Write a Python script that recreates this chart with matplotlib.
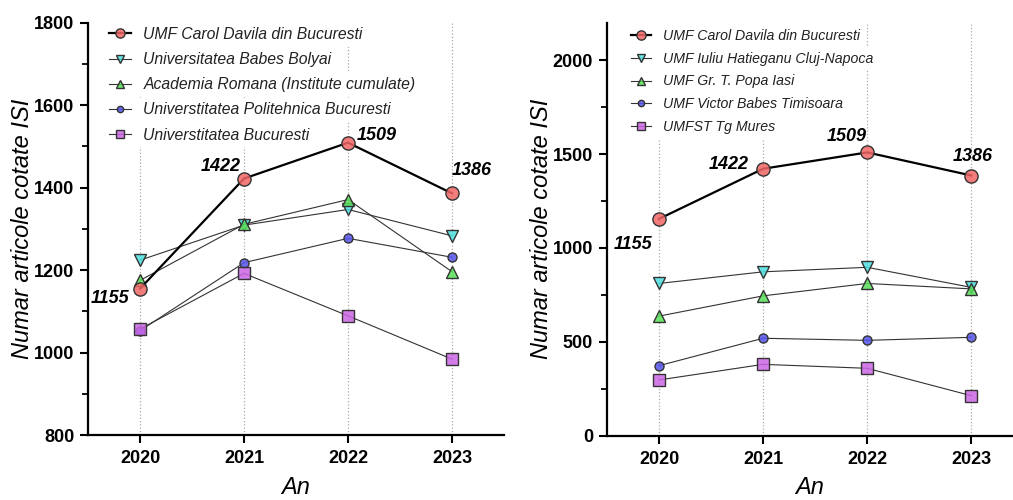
import matplotlib
matplotlib.use("Agg")
import matplotlib.pyplot as plt
from matplotlib.ticker import MultipleLocator

plt.rcParams['font.family'] = ['Liberation Sans', 'DejaVu Sans']

years = [2020, 2021, 2022, 2023]

# left panel
left_names = ['UMF Carol Davila din Bucuresti', 'Universitatea Babes Bolyai',
              'Academia Romana (Institute cumulate)', 'Universtitatea Politehnica Bucuresti',
              'Universtitatea Bucuresti']
left_vals = [
    [1155, 1422, 1509, 1386],
    [1224, 1309, 1347, 1283],
    [1175, 1311, 1371, 1196],
    [1053, 1218, 1277, 1231],
    [1057, 1192, 1089, 984],
]

# right panel
right_names = ['UMF Carol Davila din Bucuresti', 'UMF Iuliu Hatieganu Cluj-Napoca',
               'UMF Gr. T. Popa Iasi', 'UMF Victor Babes Timisoara', 'UMFST Tg Mures']
right_vals = [
    [1155, 1422, 1509, 1386],
    [811, 873, 897, 790],
    [637, 745, 811, 782],
    [373, 519, 508, 524],
    [297, 380, 359, 213],
]

# styles per series position
markers = ['o', 'v', '^', 'o', 's']
faces = [(0.95, 0.40, 0.40, 0.85), (0.30, 0.88, 0.88, 0.85), (0.35, 0.88, 0.35, 0.85),
         (0.33, 0.33, 0.92, 0.85), (0.80, 0.40, 0.90, 0.85)]
sizes = [9.5, 9, 9, 6.5, 8.5]

# label offsets in pixels (dx, dy, ha) for Carol Davila values
left_offs = [(-11, -10, 'right'), (-3, 12, 'right'), (9, 7, 'left'), (0, 23, 'left')]
right_offs = [(-7, -26, 'right'), (-14, 4, 'right'), (-1, 16, 'right'), (-19, 19, 'left')]

fig = plt.figure(figsize=(10.13, 5), dpi=100)
ax1 = fig.add_axes([0.0869, 0.13, 0.4107, 0.8246])
ax2 = fig.add_axes([0.5992, 0.1286, 0.4008, 0.826])


def draw(ax, names, vals, offs, ylim, major, minor, fs, ls, anchor):
    for i, (name, v) in enumerate(zip(names, vals)):
        ax.plot(years, v, marker=markers[i], ms=sizes[i], mfc=faces[i],
                mec='#333333', mew=1.0,
                color='black' if i == 0 else '#333333',
                lw=1.6 if i == 0 else 0.8,
                zorder=5 if i == 0 else 3, label=name)
    for x, y, (dx, dy, ha) in zip(years, vals[0], offs):
        ax.annotate(str(y), (x, y), xytext=(dx, dy), textcoords='offset pixels',
                    ha=ha, va='center', fontsize=13, fontweight='bold',
                    fontstyle='italic', zorder=6)
    ax.set_xlim(2019.5, 2023.5 if ax is ax1 else 2023.4)
    ax.set_ylim(*ylim)
    ax.set_xticks(years)
    ax.yaxis.set_major_locator(MultipleLocator(major))
    ax.yaxis.set_minor_locator(MultipleLocator(minor))
    ax.grid(axis='x', linestyle=':', color='#aaaaaa', lw=0.9, zorder=0)
    ax.set_axisbelow(True)
    for s in ['top', 'right']:
        ax.spines[s].set_visible(False)
    for s in ['left', 'bottom']:
        ax.spines[s].set_linewidth(1.6)
    ax.tick_params(axis='both', which='major', direction='out', length=6, width=1.5,
                   labelsize=13, pad=4)
    ax.tick_params(axis='y', which='minor', direction='out', length=4, width=1.3)
    ax.tick_params(axis='x', pad=5)
    for t in ax.get_xticklabels() + ax.get_yticklabels():
        t.set_fontweight('bold')
    ax.set_ylabel('Numar articole cotate ISI', fontsize=17, fontstyle='italic', labelpad=0)
    ax.set_xlabel('An', fontsize=17, fontstyle='italic', labelpad=6)
    leg = ax.legend(loc='upper left', frameon=False, fontsize=fs, markerscale=0.7,
                    handlelength=1.4, handletextpad=0.8, labelspacing=ls,
                    borderpad=0, borderaxespad=0,
                    bbox_to_anchor=anchor)
    leg.set_zorder(10)
    for t in leg.get_texts():
        t.set_fontstyle('italic')
        t.set_color('#222222')
        t.set_bbox(dict(facecolor='white', edgecolor='none', pad=3.5))


draw(ax1, left_names, left_vals, left_offs, (800, 1800), 200, 100, 11.3, 0.65, (0.05, 0.99))
draw(ax2, right_names, right_vals, right_offs, (0, 2200), 500, 250, 10.2, 0.62, (0.06, 0.985))

fig.savefig('out.png', dpi=100)
